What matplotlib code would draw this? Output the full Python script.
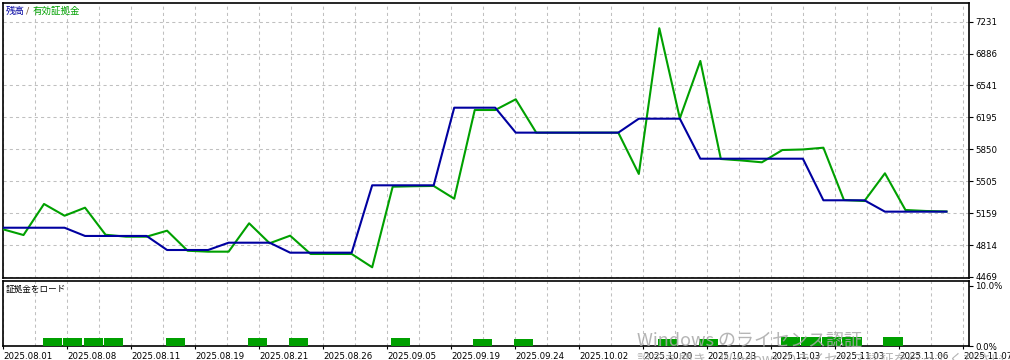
import matplotlib
matplotlib.use("Agg")
import matplotlib.pyplot as plt
from matplotlib import font_manager
import numpy as np

plt.rcParams['font.family'] = ['DejaVu Sans', 'Noto Sans CJK JP']

# balance / equity per deal (index = deal number)
balance = [5001, 5001, 5001, 5001, 4912, 4912, 4912, 4912, 4760, 4760,
           4760, 4839, 4839, 4839, 4731, 4731, 4731, 4731, 5460, 5460,
           5460, 5460, 6300, 6300, 6300, 6030, 6030, 6030, 6030, 6030,
           6030, 6181, 6181, 6181, 5748, 5748, 5748, 5748, 5748, 5748,
           5298, 5298, 5298, 5175, 5175, 5175, 5175]
equity = [4984, 4922, 5258, 5131, 5218, 4925, 4904, 4904, 4969, 4752,
          4742, 4742, 5049, 4833, 4915, 4717, 4717, 4717, 4573, 5445,
          5450, 5453, 5315, 6275, 6275, 6391, 6030, 6030, 6030, 6030,
          6030, 5583, 7160, 6185, 6806, 5745, 5729, 5709, 5842, 5848,
          5867, 5301, 5290, 5590, 5193, 5182, 5177]

# margin load bars (%)
load_idx = [2, 3, 4, 5, 8, 12, 14, 19, 23, 25, 32, 34, 38, 39, 40, 41, 43]
load_pct = [1.33, 1.33, 1.33, 1.33, 1.33, 1.33, 1.33, 1.33, 1.17, 1.17,
            1.17, 1.2, 1.45, 1.45, 1.45, 1.5, 1.5]

ytick_vals = [4469, 4814, 5159, 5505, 5850, 6195, 6541, 6886, 7231]
date_labels = ["2025.08.01", "2025.08.08", "2025.08.11", "2025.08.19",
               "2025.08.21", "2025.08.26", "2025.09.05", "2025.09.19",
               "2025.09.24", "2025.10.02", "2025.10.20", "2025.10.23",
               "2025.11.03", "2025.11.03", "2025.11.06", "2025.11.07"]

# narrow face for the axis numbers, if it is there
names = {f.name for f in font_manager.fontManager.ttflist}
tick_font = 'Liberation Sans Narrow' if 'Liberation Sans Narrow' in names else 'DejaVu Sans'
tick_size = 8.3 if tick_font != 'DejaVu Sans' else 6.2

W, H = 1010, 360
px_step = 20.51          # pixels per deal
grid_px = 32             # pixels between vertical grid lines
xmax = 966 / px_step

fig = plt.figure(figsize=(W / 100, H / 100), dpi=100)
ax = fig.add_axes([3 / W, (H - 278) / H, 966 / W, 275 / H])
ax2 = fig.add_axes([3 / W, (H - 346) / H, 966 / W, 65 / H])

blue = '#0000a0'
green = '#00a000'
gridc = '#c0c0c0'

x = np.arange(len(balance))
ax.plot(x, equity, color=green, lw=1.5, zorder=3)
ax.plot(x, balance, color=blue, lw=1.5, zorder=4)

ax2.bar(np.array(load_idx) - 0.07, load_pct, width=0.93, align='edge',
        color=green, zorder=3)

major = np.arange(0, xmax + 0.01, 2 * grid_px / px_step)
minor = np.arange(0, xmax + 0.01, grid_px / px_step)

for a in (ax, ax2):
    a.set_xlim(0, xmax)
    a.set_xticks(minor, minor=True)
    a.set_xticks(major)
    a.grid(True, axis='x', which='both', color=gridc, lw=0.75,
           linestyle=(0, (3, 3)))
    a.yaxis.tick_right()
    for s in a.spines.values():
        s.set_linewidth(1.2)
        s.set_color('black')
    a.tick_params(axis='y', length=3, width=0.8, pad=1.5, colors='black')
    a.tick_params(axis='x', which='both', length=0)

ax.set_ylim(4457, 7433)
ax.set_yticks(ytick_vals)
ax.set_yticklabels([str(v) for v in ytick_vals], family=tick_font, fontsize=tick_size)
ax.grid(True, axis='y', color=gridc, lw=0.75, linestyle=(0, (3, 3)))
ax.set_xticklabels([])

ax2.set_ylim(0, 10.8)
ax2.set_yticks([0, 10])
ax2.set_yticklabels(["0.0%", "10.0%"], family=tick_font, fontsize=tick_size)
ax2.set_xticklabels(date_labels[:len(major)], ha='left', family=tick_font,
                    fontsize=tick_size)
ax2.tick_params(axis='x', pad=2, colors='black')
ax2.tick_params(axis='x', which='major', length=2, width=0.8)

# panel captions
fig.text(6 / W, 1 - 11 / H, "残高", color=blue, fontsize=6.8, va='center')
fig.text(26 / W, 1 - 11 / H, "/", color='#806040', fontsize=6.8, va='center')
fig.text(33 / W, 1 - 11 / H, "有効証拠金", color=green, fontsize=6.8, va='center')
fig.text(6 / W, 1 - 289 / H, "証拠金をロード", color='black', fontsize=6.2, va='center')

# OS watermark overlay
fig.text(637 / W, 1 - 346 / H, "Windows のライセンス認証", color='#a8a8a8',
         alpha=0.85, fontsize=13, va='baseline', family=['Noto Sans CJK JP'])
fig.text(637 / W, 1 - 353 / H, "設定を開き、Windows のライセンス認証を行ってください。",
         color='#a8a8a8', alpha=0.85, fontsize=10, va='top',
         family=['Noto Sans CJK JP'])

fig.savefig("out.png", dpi=100)
